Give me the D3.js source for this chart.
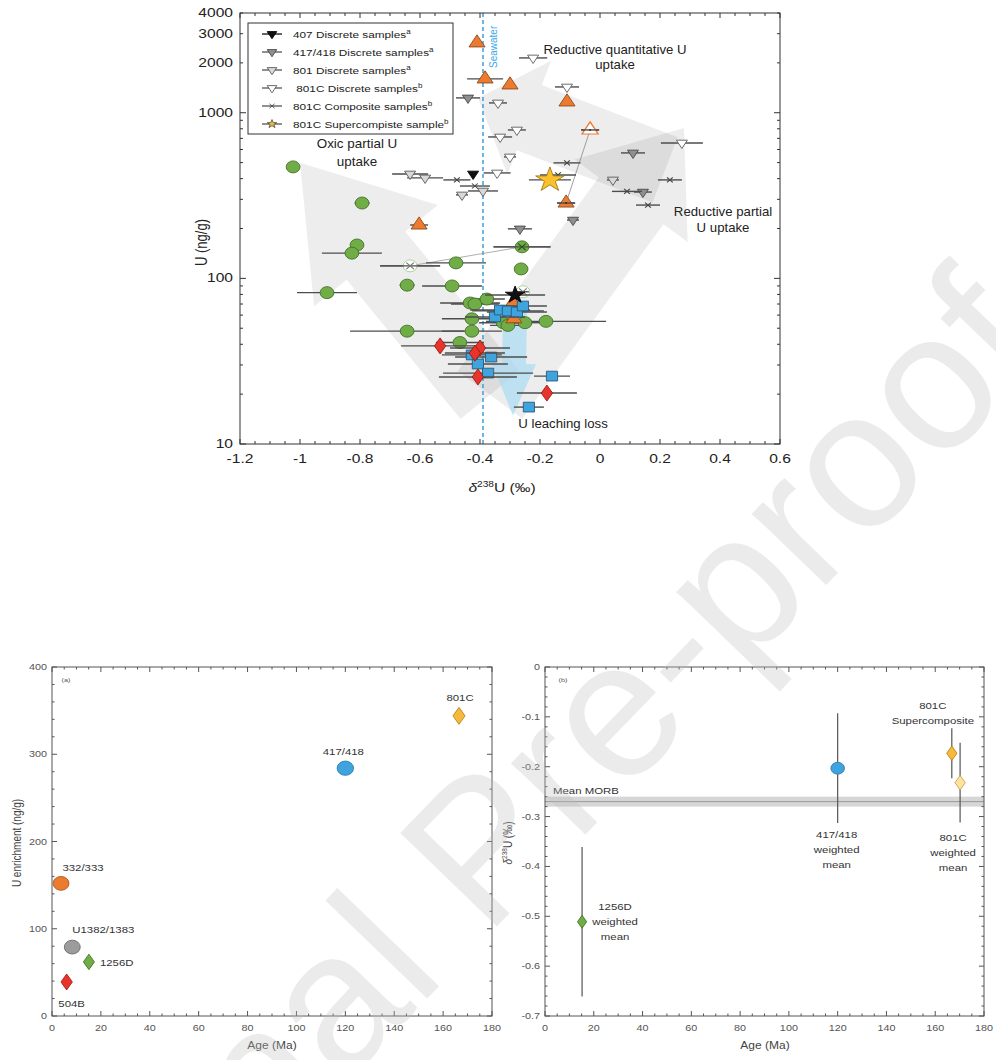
<!DOCTYPE html>
<html>
<head>
<meta charset="utf-8">
<script src="https://cdn.jsdelivr.net/npm/d3@7"></script>
<style>
  body { margin: 0; background: #fff; }
  svg { display: block; }
  text { font-family: "Liberation Sans", Arial, sans-serif; }
</style>
</head>
<body>
<svg id="fig" width="996" height="1060"></svg>
<script>
// ---------- top panel data: [d238U, U (ng/g), +/- err] ----------
const green1256 = [
  [-1.023, 471, 0.02], [-0.793, 285, 0.025], [-0.81, 159, 0.02], [-0.827, 142, 0.1],
  [-0.48, 124, 0.1], [-0.263, 114, 0.02], [-0.643, 91, 0.025], [-0.493, 90, 0.1],
  [-0.91, 82, 0.1], [-0.433, 71, 0.1], [-0.417, 70, 0.08], [-0.377, 75, 0.06],
  [-0.427, 57, 0.1], [-0.323, 54, 0.08], [-0.307, 52, 0.06], [-0.25, 54, 0.05],
  [-0.18, 55, 0.2], [-0.643, 48, 0.19], [-0.427, 48, 0.1], [-0.467, 41, 0.08]
];
const blueSquares = [
  [-0.35, 58.5, 0.1], [-0.333, 64.4, 0.1], [-0.307, 63.6, 0.12], [-0.277, 62.7, 0.1],
  [-0.257, 68.1, 0.08], [-0.427, 34.5, 0.1], [-0.363, 33.5, 0.12], [-0.407, 30.4, 0.1],
  [-0.373, 26.8, 0.15], [-0.16, 25.7, 0.06], [-0.237, 16.7, 0.05]
];
const redDiamonds = [
  [-0.533, 39.1, 0.13], [-0.4, 38.0, 0.1], [-0.417, 35.4, 0.1], [-0.407, 25.4, 0.13], [-0.177, 20.3, 0.1]
];
const orangeTriangles = [
  [-0.41, 2640, 0], [-0.383, 1600, 0.06], [-0.3, 1472, 0], [-0.11, 1162, 0],
  [-0.603, 210, 0.03], [-0.29, 71, 0], [-0.287, 57, 0]
];
const orangeOpenPair = [[-0.033, 787, 0.03], [-0.113, 285, 0.03]];
const disc407 = [[-0.423, 427, 0]];
const disc417 = [[-0.44, 1229, 0.04], [0.11, 572, 0.04], [0.143, 332, 0.03], [-0.09, 225, 0.02], [-0.267, 199, 0.04]];
const disc801 = [[-0.633, 427, 0.06], [-0.583, 404, 0.06], [-0.46, 319, 0.02], [-0.39, 337, 0.05], [0.043, 393, 0.02]];
const disc801C = [
  [-0.223, 2142, 0.047], [-0.11, 1431, 0.04], [-0.34, 1146, 0.03], [-0.333, 714, 0.04],
  [-0.277, 787, 0.03], [-0.3, 541, 0.02], [-0.343, 433, 0.045], [0.273, 657, 0.07]
];
const comp801C = [[-0.11, 498, 0.045], [-0.14, 421, 0.06], [0.233, 393, 0.04], [0.09, 335, 0.05], [0.16, 277, 0.04], [-0.477, 393, 0.045], [-0.417, 361, 0.05]];
const superComp801C = [[-0.167, 393, 0.07]];
const blackStar = [[-0.283, 79.4, 0.1]];
const crossedFilled = [[-0.26, 155, 0.095]];
const crossedOpen = [[-0.633, 119, 0.1], [-0.257, 83, 0.02]];
const seawater = -0.39;

// process arrows, ends in data coords [[d238U, U], [d238U, U]]
const arrowOxic = [[-0.367, 19.8], [-1.0, 498]];
const arrowPartial = [[-0.367, 19.8], [0.28, 809]];
const arrowQuant = [[0.217, 452], [-0.407, 1228]];
const arrowLeach = [[-0.283, 66], [-0.29, 14.8]];

const legendLabels = ["407 Discrete samples", "417/418 Discrete samples", "801 Discrete samples", " 801C Discrete samples", "801C Composite samples", "801C Supercompiste sample"];
const legendSups = ["a", "a", "a", "b", "b", "b"];
const yTickVals = [10, 100, 1000, 2000, 3000, 4000];

// ---------- bottom panels ----------
const sitesA = ["504B", "332/333", "U1382/1383", "1256D", "417/418", "801C"];
const ageA = [6, 3.7, 8.3, 15.1, 120, 166.5];
const uEnrich = [39, 152, 79, 62, 284, 344];

const sitesB = [["1256D", "weighted", "mean"], ["417/418", "weighted", "mean"], ["801C", "Supercomposite"], ["801C", "weighted", "mean"]];
const ageB = [15.2, 120, 166.8, 170.2];
const deltaB = [-0.511, -0.203, -0.173, -0.232];
const errB = [0.15, 0.11, 0.05, 0.08];
const morbMean = -0.27, morbErr = 0.01;

const svg = d3.select("#fig");

function addText(g, x, y, str, o = {}) {
  const sx = o.sx ?? 1.2;
  const tr = o.rot
    ? `translate(${x},${y}) rotate(${o.rot}) scale(1,${sx})`
    : `translate(${x},${y}) scale(${sx},1)`;
  return g.append("text")
    .attr("transform", tr)
    .attr("text-anchor", o.anchor || "middle")
    .style("font-size", (o.size || 12) + "px")
    .attr("fill", o.color || "#222")
    .text(str);
}

function deltaLabel(t, size) {
  t.append("tspan").style("font-style", "italic").text("δ");
  t.append("tspan").attr("dy", -size * 0.4).style("font-size", size * 0.65 + "px").text("238");
  t.append("tspan").attr("dy", size * 0.4).text("U (‰)");
}

const diamond = {
  draw(ctx, s) {
    const r = Math.sqrt(s);
    ctx.moveTo(0, -r); ctx.lineTo(r * 0.62, 0); ctx.lineTo(0, r); ctx.lineTo(-r * 0.62, 0); ctx.closePath();
  }
};

function arrowPts(p0, p1, hw, headLen, headHw) {
  const dx = p1[0] - p0[0], dy = p1[1] - p0[1], L = Math.hypot(dx, dy);
  const ux = dx / L, uy = dy / L, px = -uy, py = ux;
  const b = [p1[0] - ux * headLen, p1[1] - uy * headLen];
  return [
    [p0[0] + px * hw, p0[1] + py * hw], [b[0] + px * hw, b[1] + py * hw],
    [b[0] + px * headHw, b[1] + py * headHw], p1,
    [b[0] - px * headHw, b[1] - py * headHw], [b[0] - px * hw, b[1] - py * hw],
    [p0[0] - px * hw, p0[1] - py * hw]
  ];
}

// =============== TOP PANEL ===============
const x1 = d3.scaleLinear().domain([-1.2, 0.6]).range([240, 780]);
const y1 = d3.scaleLog().domain([10, 4000]).range([444, 13]);
const [L1, R1] = x1.range();
const [B1, T1] = y1.range();
const gTop = svg.append("g");
const pt = d => [x1(d[0]), y1(d[1])];

// background arrows
const arrowG = gTop.append("g");
[[arrowOxic, 38, 120, 80], [arrowPartial, 40, 90, 70], [arrowQuant, 35, 55, 61]].forEach(([a, hw, hl, hh]) => {
  arrowG.append("polygon")
    .attr("points", arrowPts(pt(a[0]), pt(a[1]), hw, hl, hh).join(" "))
    .attr("fill", "#000").attr("fill-opacity", 0.07);
});
arrowG.append("polygon")
  .attr("points", arrowPts(pt(arrowLeach[0]), pt(arrowLeach[1]), 12, 52, 22).join(" "))
  .attr("fill", "#a9dbf4").attr("fill-opacity", 0.7);

// seawater line
gTop.append("line")
  .attr("x1", x1(seawater)).attr("x2", x1(seawater)).attr("y1", T1).attr("y2", B1)
  .attr("stroke", "#3a9fe0").attr("stroke-width", 1.5).attr("stroke-dasharray", "4,3");
addText(gTop, x1(seawater) + 14, T1 + 55, "Seawater", { size: 10, color: "#3aa8e8", rot: -90, anchor: "start", sx: 1.15 });

// connecting thin lines
gTop.append("line")
  .attr("x1", x1(crossedOpen[0][0])).attr("y1", y1(crossedOpen[0][1]))
  .attr("x2", x1(crossedFilled[0][0])).attr("y2", y1(crossedFilled[0][1]))
  .attr("stroke", "#999").attr("stroke-width", 0.8);
gTop.append("line")
  .attr("x1", x1(orangeOpenPair[0][0])).attr("y1", y1(orangeOpenPair[0][1]))
  .attr("x2", x1(orangeOpenPair[1][0])).attr("y2", y1(orangeOpenPair[1][1]))
  .attr("stroke", "#888").attr("stroke-width", 0.8);

function series(data, o) {
  const g = gTop.append("g");
  g.selectAll("line").data(data.filter(d => d[2] > 0)).join("line")
    .attr("x1", d => x1(d[0] - d[2])).attr("x2", d => x1(d[0] + d[2]))
    .attr("y1", d => y1(d[1])).attr("y2", d => y1(d[1]))
    .attr("stroke", o.bar || "#4d4d4d").attr("stroke-width", 1.4);
  g.selectAll("path").data(data).join("path")
    .attr("transform", d => `translate(${x1(d[0])},${y1(d[1])}) rotate(${o.rot || 0}) scale(1.15,1)`)
    .attr("d", d3.symbol().type(o.type).size(o.size))
    .attr("fill", o.fill).attr("stroke", o.stroke).attr("stroke-width", o.sw || 0.8);
  return g;
}

series(green1256, { type: d3.symbolCircle, size: 113, fill: "#70ad47", stroke: "#3f6e27" });
series(crossedFilled, { type: d3.symbolCircle, size: 113, fill: "#70ad47", stroke: "#3f6e27" });
series(crossedFilled, { type: d3.symbolTimes, size: 30, fill: "none", stroke: "#2d4f1c", sw: 1 });
series(crossedOpen, { type: d3.symbolCircle, size: 113, fill: "#fff", stroke: "#9fd08a" });
series(crossedOpen, { type: d3.symbolTimes, size: 30, fill: "none", stroke: "#777", sw: 1 });
series(orangeTriangles, { type: d3.symbolTriangle, size: 85, fill: "#ec7b30", stroke: "#8a4516" });
series(blueSquares, { type: d3.symbolSquare, size: 95, fill: "#3fa3dd", stroke: "#23577a" });
series(redDiamonds, { type: diamond, size: 64, fill: "#e8342a", stroke: "#8e1c15" });
series(blackStar, { type: d3.symbolStar, size: 90, fill: "#111", stroke: "#000" });
series([orangeOpenPair[0]], { type: d3.symbolTriangle, size: 85, fill: "#fff", stroke: "#ec7b30", sw: 1.2 });
series([orangeOpenPair[1]], { type: d3.symbolTriangle, size: 85, fill: "#ec7b30", stroke: "#8a4516" });
series(orangeOpenPair, { type: d3.symbolCircle, size: 3, fill: "#333", stroke: "none" });
series(disc417, { type: d3.symbolTriangle, size: 40, rot: 180, fill: "#8f8f8f", stroke: "#444" });
series(disc801, { type: d3.symbolTriangle, size: 40, rot: 180, fill: "#d8d8d8", stroke: "#555" });
series(disc801C, { type: d3.symbolTriangle, size: 40, rot: 180, fill: "#fff", stroke: "#555" });
series(disc407, { type: d3.symbolTriangle, size: 40, rot: 180, fill: "#111", stroke: "#000" });
series(comp801C, { type: d3.symbolTimes, size: 18, fill: "none", stroke: "#444", sw: 1 });
series(superComp801C, { type: d3.symbolStar, size: 190, fill: "#fbc02d", stroke: "#9b7612" });

// frame + ticks
gTop.append("rect").attr("x", L1).attr("y", T1).attr("width", R1 - L1).attr("height", B1 - T1)
  .attr("fill", "none").attr("stroke", "#333").attr("stroke-width", 1);
const xTicks1 = d3.range(37).map(i => ({ v: -1.2 + i * 0.05, major: i % 4 === 0 }));
gTop.append("g").selectAll("path").data(xTicks1).join("path")
  .attr("d", d => {
    const x = x1(d.v), l = d.major ? 5 : 3;
    return `M${x},${B1}v${-l}M${x},${T1}v${l}`;
  })
  .attr("stroke", "#333");
const yTicks1 = [];
[10, 100, 1000].forEach(dec => d3.range(1, 10).forEach(k => {
  if (k * dec <= 4000) yTicks1.push({ v: k * dec, major: k === 1 });
}));
gTop.append("g").selectAll("path").data(yTicks1).join("path")
  .attr("d", d => {
    const y = y1(d.v), l = d.major ? 6 : 3;
    return `M${L1},${y}h${l}M${R1},${y}h${-l}`;
  })
  .attr("stroke", "#333");
yTickVals.forEach(v => addText(gTop, L1 - 7, y1(v) + 4, String(v), { anchor: "end", size: 12, sx: 1.3 }));
xTicks1.filter(d => d.major).forEach(d =>
  addText(gTop, x1(d.v), B1 + 19, String(+d.v.toFixed(1)), { size: 12, sx: 1.3 }));
addText(gTop, L1 - 33, (T1 + B1) / 2 + 14, "U (ng/g)", { size: 13, rot: -90, sx: 1.2 });
deltaLabel(addText(gTop, (L1 + R1) / 2 - 8, B1 + 48, "", { size: 13, sx: 1.2 }), 13);

// annotations
addText(gTop, 357, 148, "Oxic partial U", { size: 12, sx: 1.12 });
addText(gTop, 357, 166, "uptake", { size: 12, sx: 1.12 });
addText(gTop, 615, 54, "Reductive quantitative U", { size: 12, sx: 1.1 });
addText(gTop, 615, 69, "uptake", { size: 12, sx: 1.1 });
addText(gTop, 723, 216, "Reductive partial", { size: 12, sx: 1.1 });
addText(gTop, 723, 232, "U uptake", { size: 12, sx: 1.1 });
addText(gTop, 563, 428, "U leaching loss", { size: 12, sx: 1.1 });

// legend
const lg = gTop.append("g");
lg.append("rect").attr("x", 248).attr("y", 23).attr("width", 205).attr("height", 111)
  .attr("fill", "#fff").attr("stroke", "#333").attr("stroke-width", 1);
const legendStyles = [
  { type: d3.symbolTriangle, size: 30, rot: 180, fill: "#111", stroke: "#000", line: "#111" },
  { type: d3.symbolTriangle, size: 30, rot: 180, fill: "#8f8f8f", stroke: "#444", line: "#555" },
  { type: d3.symbolTriangle, size: 30, rot: 180, fill: "#d8d8d8", stroke: "#555", line: "#555" },
  { type: d3.symbolTriangle, size: 30, rot: 180, fill: "#fff", stroke: "#555", line: "#555" },
  { type: d3.symbolTimes, size: 14, rot: 0, fill: "none", stroke: "#444", line: "#555" },
  { type: d3.symbolStar, size: 22, rot: 0, fill: "#fbc02d", stroke: "#555", line: "#555" }
];
legendLabels.forEach((lab, i) => {
  const y = 34 + i * 18;
  const s = legendStyles[i];
  lg.append("line").attr("x1", 262).attr("x2", 282).attr("y1", y).attr("y2", y)
    .attr("stroke", s.line).attr("stroke-width", 1.3);
  lg.append("path")
    .attr("transform", `translate(272,${y}) rotate(${s.rot}) scale(1.15,1)`)
    .attr("d", d3.symbol().type(s.type).size(s.size))
    .attr("fill", s.fill).attr("stroke", s.stroke).attr("stroke-width", 0.8);
  const t = addText(lg, 293, y + 3.5, lab, { size: 9.5, anchor: "start", sx: 1.24 });
  t.style("white-space", "pre");
  t.append("tspan").attr("dy", -4).style("font-size", "6.5px").text(legendSups[i]);
});

// =============== BOTTOM PANELS ===============
function panelAxes(g, xs, ys, xMajor, xMinorStep, yMajor, yMinorStep, yFmt) {
  const [l, r] = xs.range();
  const [b, t] = ys.range();
  g.append("rect").attr("x", l).attr("y", t).attr("width", r - l).attr("height", b - t)
    .attr("fill", "none").attr("stroke", "#555").attr("stroke-width", 1);
  const xd = xs.domain(), yd = ys.domain();
  const nx = Math.round((xd[1] - xd[0]) / xMinorStep);
  const ny = Math.round((yd[1] - yd[0]) / yMinorStep);
  const xt = d3.range(nx + 1).map(i => xd[0] + i * xMinorStep);
  const yt = d3.range(ny + 1).map(i => yd[0] + i * yMinorStep);
  const isMaj = (v, step) => Math.abs(v / step - Math.round(v / step)) < 1e-6;
  g.append("g").selectAll("path").data(xt).join("path")
    .attr("d", v => { const x = xs(v), k = isMaj(v, xMajor) ? 5 : 2.5; return `M${x},${b}v${-k}M${x},${t}v${k}`; })
    .attr("stroke", "#555");
  g.append("g").selectAll("path").data(yt).join("path")
    .attr("d", v => { const y = ys(v), k = isMaj(v, yMajor) ? 5 : 2.5; return `M${l},${y}h${k}M${r},${y}h${-k}`; })
    .attr("stroke", "#555");
  d3.range(xd[0], xd[1] + 1e-9, xMajor).forEach(v =>
    addText(g, xs(v), b + 15, String(v), { size: 9, color: "#555", sx: 1.2 }));
  yt.filter(v => isMaj(v, yMajor)).forEach(v =>
    addText(g, l - 5, ys(v) + 3, yFmt(v), { size: 9, color: "#555", anchor: "end", sx: 1.2 }));
}

// panel (a)
const xa = d3.scaleLinear().domain([0, 180]).range([52, 492]);
const ya = d3.scaleLinear().domain([0, 400]).range([1016, 667]);
const ga = svg.append("g");
panelAxes(ga, xa, ya, 20, 5, 100, 20, v => String(v));
addText(ga, 66, 682, "(a)", { size: 6, color: "#555" });
addText(ga, 272, 1049, "Age (Ma)", { size: 10, color: "#444" });
addText(ga, 21, 843, "U enrichment (ng/g)", { size: 10, color: "#444", rot: -90 });

const aStyles = [
  { type: diamond, size: 64, fill: "#e8342a", stroke: "#9e2018", lab: [5, 25, "middle"] },
  { type: d3.symbolCircle, size: 150, fill: "#ec7b30", stroke: "#a8561f", lab: [22, -12, "middle"] },
  { type: d3.symbolCircle, size: 150, fill: "#9c9c9c", stroke: "#666", lab: [31, -14, "middle"] },
  { type: diamond, size: 60, fill: "#70ad47", stroke: "#41702a", lab: [11, 4, "start"] },
  { type: d3.symbolCircle, size: 160, fill: "#3fa3dd", stroke: "#2a7bb0", lab: [-2, -13, "middle"] },
  { type: diamond, size: 72, fill: "#f6b93b", stroke: "#b38214", lab: [1, -15, "middle"] }
];
sitesA.forEach((s, i) => {
  const st = aStyles[i];
  const x = xa(ageA[i]), y = ya(uEnrich[i]);
  ga.append("path")
    .attr("transform", `translate(${x},${y}) scale(1.15,1)`)
    .attr("d", d3.symbol().type(st.type).size(st.size))
    .attr("fill", st.fill).attr("stroke", st.stroke).attr("stroke-width", 0.8);
  addText(ga, x + st.lab[0], y + st.lab[1], s, { size: 9.5, color: "#333", anchor: st.lab[2] });
});

// panel (b)
const xb = d3.scaleLinear().domain([0, 180]).range([545, 984]);
const yb = d3.scaleLinear().domain([-0.7, 0]).range([1016, 667]);
const gb = svg.append("g");
gb.append("rect")
  .attr("x", xb(0)).attr("width", xb(180) - xb(0))
  .attr("y", yb(morbMean + morbErr)).attr("height", yb(morbMean - morbErr) - yb(morbMean + morbErr))
  .attr("fill", "#d6d6d6");
gb.append("line").attr("x1", xb(0)).attr("x2", xb(180)).attr("y1", yb(morbMean)).attr("y2", yb(morbMean))
  .attr("stroke", "#999").attr("stroke-width", 1);
panelAxes(gb, xb, yb, 20, 5, 0.1, 0.02, v => String(+v.toFixed(1)));
addText(gb, 563, 682, "(b)", { size: 6, color: "#555" });
addText(gb, 765, 1049, "Age (Ma)", { size: 10, color: "#444" });
deltaLabel(addText(gb, 512, 843, "", { size: 10, color: "#444", rot: -90 }), 10);
addText(gb, 553, 794, "Mean MORB", { size: 9.5, color: "#333", anchor: "start" });

const bStyles = [
  { type: diamond, size: 42, fill: "#70ad47", stroke: "#41702a", lab: [33, -12] },
  { type: d3.symbolCircle, size: 110, fill: "#3fa3dd", stroke: "#2a7bb0", lab: [-1, 70] },
  { type: diamond, size: 52, fill: "#f6b93b", stroke: "#b38214", lab: [-19, -44] },
  { type: diamond, size: 52, fill: "#fde3a0", stroke: "#c8a040", lab: [-7, 58] }
];
sitesB.forEach((lines, i) => {
  const st = bStyles[i];
  const x = xb(ageB[i]), y = yb(deltaB[i]);
  gb.append("line").attr("x1", x).attr("x2", x)
    .attr("y1", yb(deltaB[i] - errB[i])).attr("y2", yb(deltaB[i] + errB[i]))
    .attr("stroke", "#555").attr("stroke-width", 1.2);
  gb.append("path")
    .attr("transform", `translate(${x},${y}) scale(1.15,1)`)
    .attr("d", d3.symbol().type(st.type).size(st.size))
    .attr("fill", st.fill).attr("stroke", st.stroke).attr("stroke-width", 0.8);
  lines.forEach((ln, j) =>
    addText(gb, x + st.lab[0], y + st.lab[1] + j * 15, ln, { size: 9.5, color: "#333" }));
});

// watermark
svg.append("text")
  .attr("transform", "translate(527,895) rotate(-46)")
  .attr("text-anchor", "middle")
  .style("font-size", "195px")
  .attr("fill", "#bdbdbd").attr("fill-opacity", 0.3)
  .text("Journal Pre-proof");
</script>
</body>
</html>
